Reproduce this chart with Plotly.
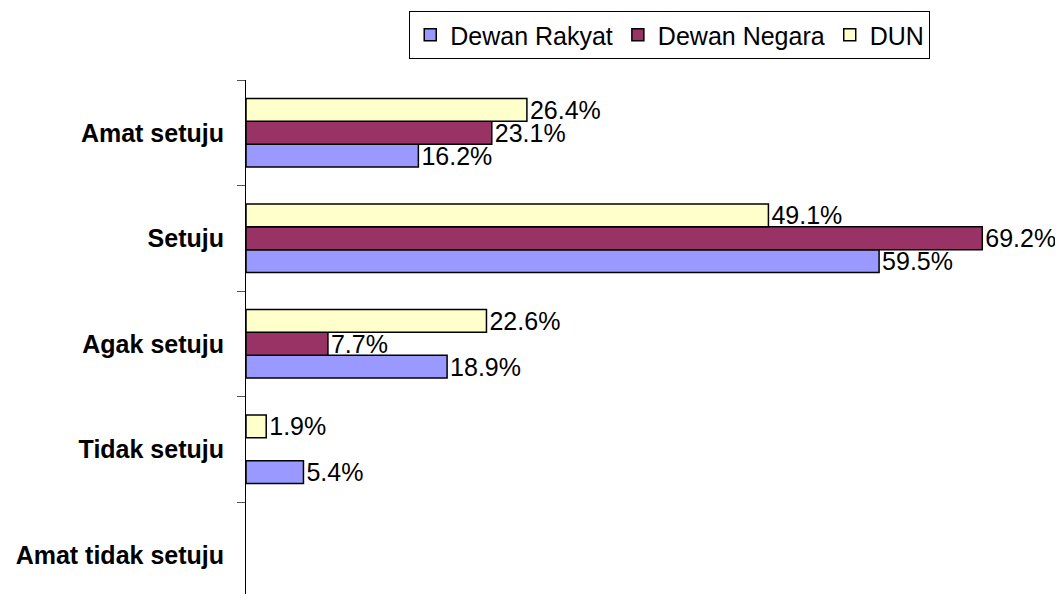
import plotly.graph_objects as go

categories = ["Amat tidak setuju", "Tidak setuju", "Agak setuju", "Setuju", "Amat setuju"]
dewan_rakyat = [None, 5.4, 18.9, 59.5, 16.2]
dewan_negara = [None, None, 7.7, 69.2, 23.1]
dun = [None, 1.9, 22.6, 49.1, 26.4]

series = [
    ("Dewan Rakyat", dewan_rakyat, "#9999FF"),
    ("Dewan Negara", dewan_negara, "#993366"),
    ("DUN", dun, "#FFFFCC"),
]

FONT = "Liberation Sans, Arial, sans-serif"

fig = go.Figure()
for name, vals, color in series:
    fig.add_trace(go.Bar(
        y=categories, x=vals, name=name, orientation="h",
        marker=dict(color=color, line=dict(color="black", width=1.5)),
        text=[f"{v:.1f}%" if v is not None else "" for v in vals],
        textposition="outside", constraintext="none", cliponaxis=False,
        textfont=dict(family=FONT, size=25, color="black"),
    ))

fig.update_layout(
    width=1055, height=586,
    margin=dict(l=238, r=19, t=72, b=0),
    paper_bgcolor="white", plot_bgcolor="white",
    barmode="group", bargap=0.35, bargroupgap=0,
    font=dict(family=FONT, color="black"),
    showlegend=True,
    legend=dict(
        orientation="h", x=0.531, xanchor="center", y=1.134, yanchor="top",
        bordercolor="black", borderwidth=1, bgcolor="white",
        font=dict(size=25, color="black"), traceorder="normal",
    ),
    xaxis=dict(range=[0, 75], showgrid=False, zeroline=False, showticklabels=False,
               showline=False, ticks=""),
    yaxis=dict(
        categoryorder="array", categoryarray=categories,
        range=[-0.372, 4.5], showgrid=False, zeroline=False,
        showline=True, linecolor="black", linewidth=1,
        ticks="outside", ticklen=8, tickcolor="#555555", tickson="boundaries",
        tickfont=dict(size=25, color="black", weight="bold"),
        ticklabelstandoff=16,
    ),
)

fig.write_html("out.html")
